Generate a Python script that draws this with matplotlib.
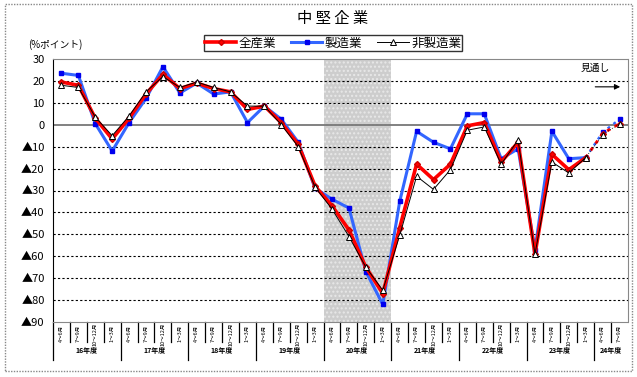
import numpy as np
import matplotlib
matplotlib.use("Agg")
import matplotlib.pyplot as plt
from matplotlib.patches import Rectangle
import matplotlib.transforms as mtransforms

plt.rcParams['font.family'] = ['Noto Sans CJK JP', 'DejaVu Sans']

# 四半期ラベルと年度
quarters = ['4～6月', '7～9月', '10～12月', '1～3月']
years = ['16年度', '17年度', '18年度', '19年度', '20年度', '21年度', '22年度', '23年度', '24年度']

# 全産業
all_ind = [19.5, 18, 3, -6.5, 3, 14, 23, 16.5, 19, 16.5, 15, 7, 8.5, 1, -9,
           -28, -37, -48, -65, -77, -47, -18, -25, -18, -0.5, 1, -17, -8,
           -59, -13.5, -20.5, -15, -4, 0.5]
# 製造業
manuf = [23.5, 22.5, 0.5, -12, 1, 12, 26.5, 14.5, 19, 14, 15, 1, 8.5, 2.5, -8,
         -29, -34, -38, -67, -82, -35, -3, -8, -11, 5, 5, -15.5, -11,
         -57, -3, -15.5, -15, -3.5, 2.5]
# 非製造業
non_manuf = [18, 17, 3.5, -5, 4, 15, 22, 17, 19.5, 17, 15, 8.5, 8.5, 0, -10,
             -28.5, -38.5, -51, -65, -75.5, -50.5, -23.5, -29.5, -20.5, -2.5, -1, -18, -7,
             -59, -17, -22, -15, -4.5, 0.5]

ytick_vals = [30, 20, 10, 0, -10, -20, -30, -40, -50, -60, -70, -80, -90]
ytick_labels = ['30', '20', '10', '0', '▲10', '▲20', '▲30', '▲40', '▲50',
                '▲60', '▲70', '▲80', '▲90']

n = len(all_ind)
x = np.arange(n)
fc = 31  # 見通しの開始

fig = plt.figure(figsize=(6.37, 3.77), dpi=100)
fig.patches.append(Rectangle((5 / 637, 1 - 371 / 377), 627 / 637, 367 / 377,
                             transform=fig.transFigure, fill=False,
                             edgecolor='#888888', linestyle=(0, (1, 1)), lw=1))

ax = fig.add_axes([53 / 637, 1 - 322 / 377, 575 / 637, 263 / 377])
ax.set_xlim(-0.5, n - 0.5)
ax.set_ylim(-90, 30)

# 網掛け（20年度）
ax.axvspan(15.5, 19.5, facecolor='#cdcdcd', edgecolor='#e8e8e8', hatch='....', lw=0, zorder=0)

# グリッド
for v in ytick_vals:
    if v == 0:
        ax.axhline(v, color='#777777', lw=1.3, zorder=1)
    elif v not in (30, -90):
        ax.axhline(v, color='black', lw=0.8, linestyle=(0, (2, 2)), zorder=1)

series = [
    (manuf, '製造業', dict(color='#3366ff', lw=2.2, marker='s', ms=3.5,
                         mfc='#0000ee', mec='#0000ee'), 3),
    (all_ind, '全産業', dict(color='#ff0000', lw=2.6, marker='D', ms=3,
                           mfc='#ff0000', mec='#cc0000'), 4),
    (non_manuf, '非製造業', dict(color='black', lw=0.7, marker='^', ms=5,
                              mfc='white', mec='black', mew=0.7), 5),
]
handles = {}
for vals, name, st, z in series:
    vals = np.array(vals)
    h, = ax.plot(x[:fc + 1], vals[:fc + 1], label=name, zorder=z, **st)
    ax.plot(x[fc:], vals[fc:], zorder=z, linestyle=(0, (1.2, 1.8)),
            **{k: v for k, v in st.items() if k != 'lw'}, lw=st['lw'] * 0.8)
    handles[name] = h

ax.set_yticks(ytick_vals)
ax.set_yticklabels(ytick_labels, fontsize=8)
ax.tick_params(axis='y', length=0, pad=6)
ax.set_xticks([])
for side in ['top', 'right', 'bottom']:
    ax.spines[side].set_color('#888888')
    ax.spines[side].set_linestyle((0, (1, 1)))
ax.spines['left'].set_color('black')

# 横軸ラベル
trans = mtransforms.blended_transform_factory(ax.transData, ax.transAxes)
for i in range(n):
    ax.text(i, -0.045, quarters[i % 4], transform=trans, rotation=90,
            ha='center', va='center', fontsize=4)
for i in range(n - 1):
    top = -0.075 if (i + 1) % 4 else -0.145
    ax.plot([i + 0.5, i + 0.5], [0, top], transform=trans, color='black',
            lw=0.9, clip_on=False)
ax.plot([-0.5, -0.5], [0, -0.145], transform=trans, color='black', lw=0.9, clip_on=False)
for j, yr in enumerate(years):
    start = j * 4
    end = min(start + 3, n - 1)
    ax.text((start + end) / 2, -0.11, yr, transform=trans, ha='center',
            va='center', fontsize=5, fontweight='bold')

# 見通し
ax.text(30.7, 26, '見通し', fontsize=7, ha='left', va='center')
ax.annotate('', xy=(33.2, 17.3), xytext=(31.4, 17.3),
            arrowprops=dict(arrowstyle='-|>', color='black', lw=0.8, mutation_scale=8))

fig.text(333 / 637, 1 - 18 / 377, '中 堅 企 業', ha='center', va='center', fontsize=11)
fig.text(28 / 637, 1 - 45 / 377, '(%ポイント)', ha='left', va='center', fontsize=7)

leg = fig.legend([handles['全産業'], handles['製造業'], handles['非製造業']],
                 ['全産業', '製造業', '非製造業'], ncol=3, loc='center',
                 bbox_to_anchor=(333 / 637, 1 - 43 / 377), fontsize=9,
                 frameon=True, fancybox=False, edgecolor='black',
                 handlelength=2.5, handletextpad=0.2, columnspacing=1.2,
                 borderpad=0.1, borderaxespad=0)
leg.get_frame().set_linewidth(1)

fig.savefig('out.png', dpi=100)
